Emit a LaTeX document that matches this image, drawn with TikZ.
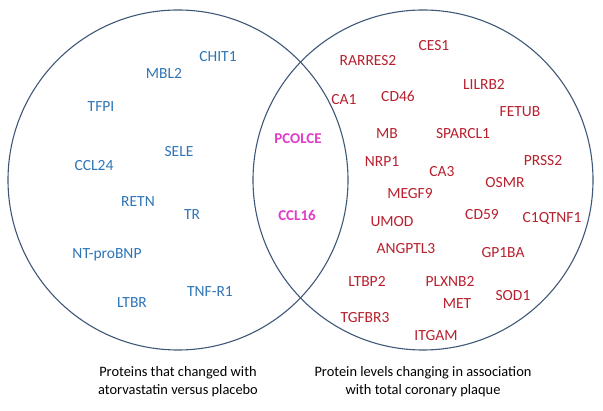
\documentclass[tikz,border=0pt]{standalone}
\usepackage{fontspec}
\setmainfont{Carlito}
\usepackage{tikz}
\usetikzlibrary{positioning}
\definecolor{ring}{HTML}{3F5878}
\definecolor{drugblue}{HTML}{2E75B6}
\definecolor{plaquered}{HTML}{B8202E}
\definecolor{shared}{HTML}{E03CC8}
\tikzset{setring/.style={draw=ring,line width=1.1pt},
druglabel/.style={text=drugblue,font=\fontsize{15.5}{18}\selectfont,inner sep=0pt},
plaquelabel/.style={text=plaquered,font=\fontsize{15.5}{18}\selectfont,inner sep=0pt},
sharedlabel/.style={text=shared,font=\fontsize{15}{18}\selectfont\bfseries,inner sep=0pt},
settitle/.style={font=\fontsize{14.4}{18}\selectfont,align=center,inner sep=0pt}}
\begin{document}
\begin{tikzpicture}[x=1pt,y=-1pt]
\useasboundingbox (0,0) rectangle (603,411);
\draw[setring] (178,180) circle[radius=170];
\draw[setring] (423,180) circle[radius=170];
% atorvastatin vs placebo
\foreach \name/\px/\py in {CHIT1/218/57,MBL2/164/73,TFPI/101/107,SELE/179/152,CCL24/94/166,RETN/138/202,TR/192/215,NT-proBNP/107/255,TNF-R1/210/292,LTBR/132/303}
\node[druglabel] (d-\name) at (\px,\py) {\name};
% shared
\node[sharedlabel] (s-pcolce) at (298,139) {PCOLCE};
\node[sharedlabel] (s-ccl16) at (297,215) {CCL16};
% total coronary plaque
\foreach \name/\px/\py in {CES1/434/46,RARRES2/368/61,LILRB2/484/84,CA1/344/100,CD46/398/96,FETUB/520/112,MB/387/134,SPARCL1/463/134,NRP1/382/162,PRSS2/543/161,CA3/442/172,OSMR/505/183,MEGF9/410/194,UMOD/392/222,CD59/482/215,C1QTNF1/552/218,ANGPTL3/406/249,GP1BA/503/253,LTBP2/367/281,PLXNB2/450/281,SOD1/513/296,MET/457/304,TGFBR3/365/318,ITGAM/436/336}
\node[plaquelabel] (p-\name) at (\px,\py) {\name};
\node[settitle] (t-drug) at (178,382) {Proteins that changed with\\atorvastatin versus placebo};
\node[settitle] (t-plaque) at (423,382) {Protein levels changing in association\\with total coronary plaque};
\end{tikzpicture}
\end{document}
